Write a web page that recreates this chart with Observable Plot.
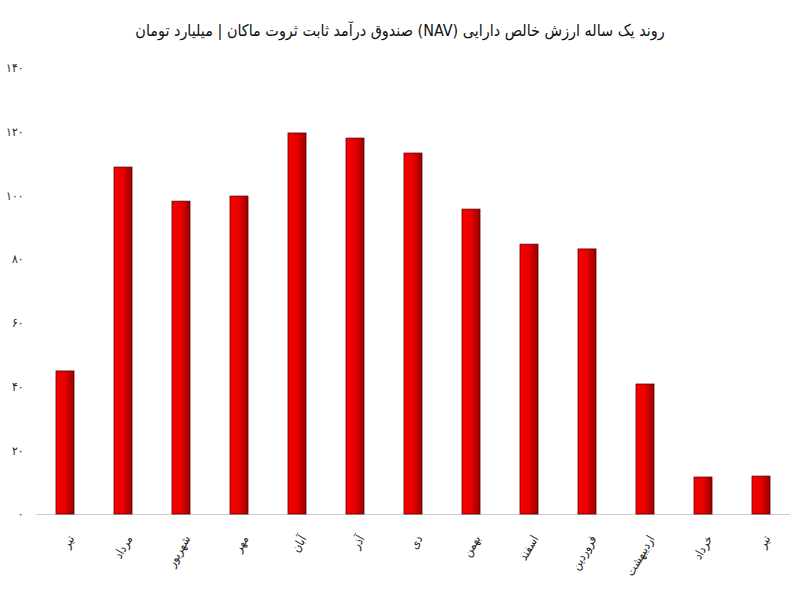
<!DOCTYPE html>
<html><head><meta charset="utf-8">
<script src="https://cdn.jsdelivr.net/npm/d3@7"></script>
<script src="https://cdn.jsdelivr.net/npm/@observablehq/plot@0.6"></script>
<style>
body{margin:0;background:#fff;}
#title{height:50px;line-height:62px;text-align:center;font-family:"DejaVu Sans Condensed","DejaVu Sans";font-size:16px;color:#111;direction:rtl;}
</style>
</head><body>
<div id="title">روند یک ساله ارزش خالص دارایی (NAV) صندوق درآمد ثابت ثروت ماکان | میلیارد تومان</div>
<div id="chart"></div>
<script>
const months = ["تیر","مرداد","شهریور","مهر","آبان","آذر","دی","بهمن","اسفند","فروردین","اردیبهشت","خرداد","تیر "];
const navValues = [44.9,108.9,98.2,99.8,119.6,118.0,113.3,95.7,84.7,83.2,40.8,11.6,11.9];
const yTicks = [0,20,40,60,80,100,120,140];
const data = months.map((m,i)=>({month:m, value:navValues[i]}));
const fa = n => String(n).replace(/\d/g, d => "۰۱۲۳۴۵۶۷۸۹"[d]);

const chart = Plot.plot({
  width: 800, height: 550,
  marginTop: 18, marginBottom: 86, marginLeft: 36, marginRight: 10,
  style: {fontFamily: "DejaVu Sans Condensed, DejaVu Sans", fontSize: "11px", color: "#222"},
  x: {domain: months, paddingInner: 0.69, paddingOuter: 0.345, label: null},
  y: {domain: [0,140], label: null},
  marks: [
    Plot.ruleY([0], {stroke: "#ccc", strokeWidth: 1.2}),
    Plot.barY(data, {x: "month", y: "value", fill: "url(#redgrad)", stroke: "#5a0000", strokeWidth: 0.8}),
    Plot.axisY(yTicks, {tickSize: 0, tickPadding: 13, tickFormat: fa, fontSize: 12}),
    Plot.axisX({tickSize: 0, tickRotate: -60, tickPadding: 22, dx: 6, fontSize: 12, tickFormat: d => d.trim()})
  ]
});
const ns = "http://www.w3.org/2000/svg";
const defs = document.createElementNS(ns, "defs");
defs.innerHTML = `<linearGradient id="redgrad" x1="0" x2="1" y1="0" y2="0">
  <stop offset="0" stop-color="#ff0000"/><stop offset="0.5" stop-color="#e60000"/><stop offset="1" stop-color="#9a0000"/></linearGradient>`;
chart.insertBefore(defs, chart.firstChild);
document.getElementById("chart").appendChild(chart);
</script>
</body></html>
